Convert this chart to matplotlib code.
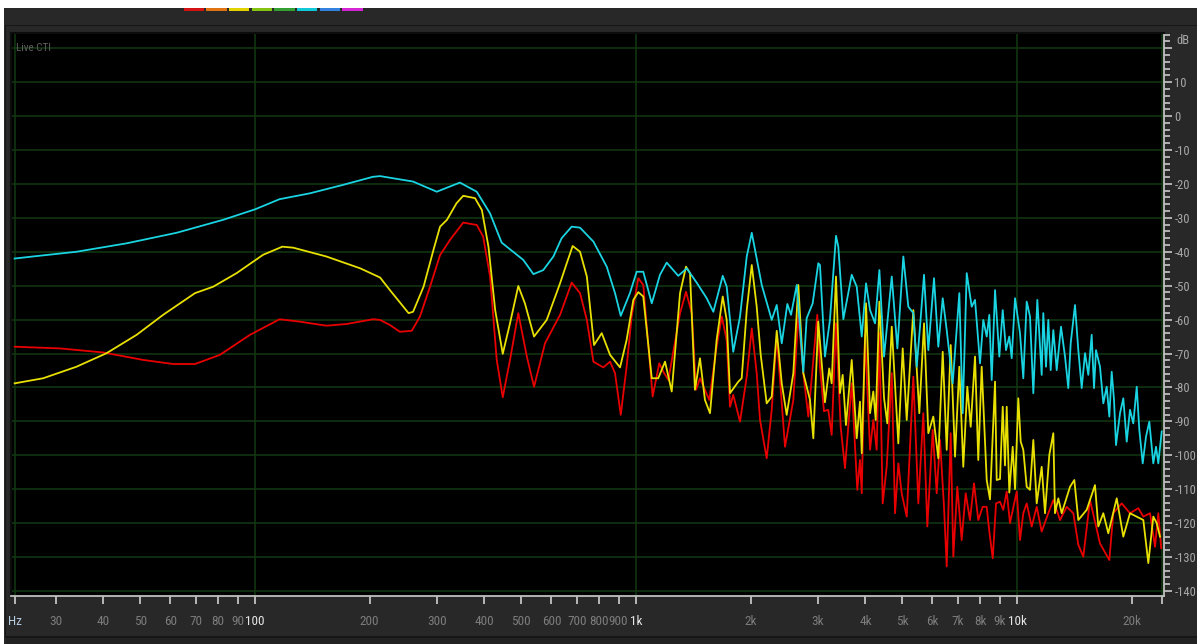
import matplotlib
matplotlib.use("Agg")
import matplotlib.pyplot as plt
from matplotlib.patches import Rectangle
from matplotlib.ticker import MultipleLocator, NullLocator
from matplotlib import font_manager as fm

# ---------------- data ----------------
cyan_freq = [23.4, 26.1, 34.0, 46.1, 62.3, 82.4, 100, 116, 139, 170, 204, 213, 260, 300, 345, 382, 414, 444, 476,
             506, 538, 571, 607, 638, 678, 713, 773, 838, 881, 912, 964, 1004, 1045, 1100, 1156, 1204, 1291, 1359,
             1443, 1533, 1596, 1689, 1730, 1800, 1875, 1953, 2013, 2138, 2271, 2341, 2413, 2496, 2552, 2642, 2749,
             2805, 2909, 3009, 3040, 3133, 3229, 3349, 3396, 3501, 3683, 3796, 3913, 4016, 4114, 4241, 4353, 4478,
             4691, 4853, 5031, 5185, 5344, 5455, 5565, 5701, 5851, 6056, 6215, 6383, 6539, 6780, 7057, 7203, 7379,
             7605, 7759, 7997, 8157, 8327, 8459, 8583, 8757, 8986, 9173, 9357, 9546, 9685, 9881, 10183, 10387, 10604,
             10817, 11036, 11306, 11609, 11722, 11915, 12083, 12257, 12454, 12712, 13047, 13366, 13633, 13833, 14198,
             14485, 14785, 15084, 15387, 15705, 15927, 16119, 16513, 16847, 17195, 17470, 17725, 17972, 18190, 18635,
             19011, 19405, 19797, 20194, 20617, 20942, 21376, 21808, 22245, 22789, 23164, 23490, 23977]
cyan_db = [-42.0, -41.4, -40.0, -37.5, -34.4, -30.6, -27.5, -24.5, -22.8, -20.3, -17.9, -17.7, -19.3, -22.3, -19.6,
           -22.3, -28.7, -37.3, -40.0, -42.4, -46.6, -45.4, -41.4, -36.0, -32.6, -32.9, -37.0, -44.4, -52.2, -58.9,
           -52.2, -45.9, -45.9, -55.2, -46.8, -43.2, -47.1, -44.9, -49.1, -53.7, -57.7, -47.1, -50.3, -69.5, -59.1,
           -41.4, -34.4, -49.8, -60.1, -55.7, -67.0, -55.4, -58.6, -49.8, -75.4, -59.6, -55.2, -43.4, -43.9, -70.9,
           -60.1, -35.3, -38.5, -59.9, -46.8, -50.3, -65.0, -49.3, -57.2, -61.1, -45.4, -70.9, -47.3, -68.5, -41.4,
           -56.2, -58.1, -73.9, -62.1, -46.8, -69.0, -47.8, -68.0, -53.7, -63.1, -78.8, -52.2, -87.6, -46.3, -56.2,
           -54.2, -72.9, -60.1, -65.0, -58.6, -77.8, -51.3, -70.9, -57.2, -69.0, -65.0, -71.4, -53.7, -64.0, -77.3,
           -54.7, -59.1, -81.7, -54.2, -76.3, -58.1, -73.9, -60.1, -74.9, -63.1, -74.9, -62.1, -70.9, -80.2, -67.0,
           -55.7, -69.0, -80.2, -69.9, -76.3, -64.5, -80.2, -69.0, -73.9, -84.7, -79.8, -88.6, -75.4, -83.7, -97.0,
           -87.6, -83.2, -96.0, -86.6, -90.6, -79.8, -92.5, -102.4, -94.5, -90.1, -102.4, -97.5, -102.4, -93.0]

yellow_freq = [23.4, 27.8, 34.0, 40.8, 48.9, 57.4, 69.6, 77.7, 89.5, 105, 118, 126, 154, 189, 213, 226, 253, 260, 277,
               294, 306, 319, 338, 352, 378, 394, 410, 427, 447, 467, 491, 511, 540, 583, 632, 658, 682, 713, 743, 776,
               813, 855, 908, 945, 984, 1014, 1045, 1100, 1144, 1192, 1241, 1305, 1353, 1386, 1428, 1472, 1517, 1564,
               1628, 1689, 1730, 1765, 1856, 1894, 1953, 2013, 2074, 2125, 2203, 2271, 2341, 2413, 2486, 2588, 2667,
               2749, 2862, 2920, 3009, 3133, 3215, 3263, 3349, 3430, 3487, 3557, 3683, 3796, 3871, 3913, 4016, 4114,
               4196, 4257, 4353, 4478, 4566, 4691, 4881, 5012, 5135, 5344, 5541, 5701, 5851, 6030, 6215, 6383, 6539,
               6699, 6876, 7057, 7228, 7406, 7559, 7759, 7913, 8078, 8327, 8494, 8757, 8845, 9024, 9173, 9300, 9397,
               9546, 9743, 9881, 10079, 10226, 10387, 10604, 10817, 11036, 11264, 11609, 11844, 12156, 12454, 12580,
               12835, 13101, 13776, 14139, 14485, 15237, 16020, 16344, 16847, 17362, 18269, 19011, 19797, 20617, 21455,
               22113, 22789, 23263, 23730]
yellow_db = [-78.8, -77.3, -73.9, -69.9, -64.5, -58.6, -52.2, -50.3, -46.3, -40.9, -38.5, -38.8, -41.4, -44.9, -47.6,
             -51.3, -58.1, -57.7, -50.3, -39.5, -32.6, -30.6, -25.7, -23.5, -24.2, -27.7, -38.5, -57.2, -70.1, -61.1,
             -50.1, -55.2, -65.0, -60.1, -49.3, -43.4, -38.3, -40.0, -47.3, -67.5, -64.0, -70.4, -74.1, -66.0, -54.2,
             -51.9, -53.2, -77.3, -77.3, -72.4, -81.2, -52.2, -44.4, -46.3, -80.7, -71.4, -83.7, -87.6, -66.0, -53.2,
             -60.1, -81.7, -78.3, -77.3, -57.2, -43.9, -56.2, -70.4, -84.7, -82.7, -63.3, -78.8, -88.1, -75.8, -49.8,
             -75.8, -83.7, -95.0, -60.6, -84.4, -74.4, -78.8, -47.3, -81.7, -76.3, -91.1, -71.9, -95.0, -84.2, -99.4,
             -55.2, -87.6, -81.2, -89.6, -54.7, -83.2, -90.6, -62.1, -96.5, -68.5, -89.6, -57.2, -87.6, -61.1, -93.5,
             -88.6, -100.9, -69.5, -98.4, -67.5, -100.4, -73.9, -103.4, -79.8, -91.6, -70.9, -101.4, -73.9, -107.3,
             -113.0, -78.3, -107.3, -107.0, -85.7, -103.0, -85.7, -111.0, -97.5, -110.0, -83.2, -96.0, -98.4, -109.3,
             -110.2, -95.5, -114.2, -103.4, -117.1, -99.9, -93.5, -117.1, -112.7, -117.1, -109.3, -107.3, -119.1,
             -116.1, -108.8, -121.0, -117.1, -123.0, -112.7, -124.0, -117.1, -118.1, -119.1, -131.8, -118.1, -120.0,
             -124.0]

red_freq = [23.4, 30.8, 40.0, 50.9, 61.0, 69.6, 80.9, 97, 116, 131, 154, 174, 204, 213, 226, 240, 258, 271, 288, 306,
            325, 352, 382, 397, 414, 431, 447, 467, 491, 517, 540, 577, 632, 678, 713, 743, 773, 821, 855, 881, 912,
            945, 974, 1014, 1045, 1106, 1151, 1180, 1216, 1305, 1353, 1401, 1438, 1472, 1557, 1628, 1679, 1730, 1765,
            1800, 1875, 1953, 2013, 2074, 2116, 2203, 2271, 2341, 2461, 2588, 2667, 2749, 2833, 2991, 3040, 3114, 3196,
            3263, 3349, 3445, 3536, 3683, 3809, 3871, 3913, 3990, 4114, 4196, 4283, 4353, 4441, 4550, 4691, 4785, 4881,
            4981, 5135, 5344, 5508, 5677, 5816, 6008, 6155, 6280, 6433, 6539, 6699, 6805, 6971, 7158, 7333, 7526, 7711,
            7913, 8127, 8327, 8459, 8636, 8810, 9024, 9204, 9397, 9585, 9982, 10183, 10387, 10604, 10930, 11264, 11609,
            12083, 12454, 12972, 13506, 14054, 14485, 14928, 15546, 16513, 17470, 17894, 18830, 19797, 20818, 21455,
            22343, 23023, 23490, 23900]
red_db = [-68.0, -68.5, -69.7, -71.9, -73.1, -73.1, -70.4, -64.5, -59.9, -60.6, -61.8, -61.3, -59.9, -60.1, -61.6,
          -63.6, -63.3, -59.1, -50.3, -41.0, -36.5, -31.4, -32.1, -35.5, -47.3, -71.9, -82.9, -71.9, -58.1, -70.9,
          -79.8, -67.0, -58.6, -49.1, -52.2, -60.1, -72.4, -74.1, -72.4, -75.8, -88.1, -73.9, -59.1, -47.8, -49.8,
          -82.7, -72.9, -75.4, -77.8, -58.1, -51.8, -58.1, -80.7, -77.3, -83.7, -68.0, -59.1, -66.0, -85.7, -82.2,
          -90.1, -76.8, -62.6, -75.8, -89.6, -100.9, -86.6, -65.0, -97.5, -83.7, -58.6, -75.8, -88.6, -58.6, -73.9,
          -87.0, -86.6, -94.0, -61.1, -91.6, -103.8, -78.8, -110.2, -101.4, -111.2, -64.5, -98.4, -89.6, -98.4, -64.0,
          -114.2, -103.4, -75.8, -117.1, -102.4, -111.2, -118.1, -76.8, -114.2, -87.6, -121.0, -92.5, -111.2, -95.5,
          -115.2, -132.8, -93.5, -129.9, -109.3, -125.0, -111.2, -119.1, -108.3, -119.1, -115.2, -115.2, -122.5,
          -130.4, -114.2, -113.7, -116.1, -110.7, -120.0, -110.7, -125.0, -117.1, -114.2, -121.0, -115.2, -122.5,
          -117.1, -113.2, -119.1, -115.2, -117.1, -126.4, -129.9, -113.2, -126.0, -130.9, -117.1, -114.2, -117.1,
          -115.6, -118.1, -117.1, -127.0, -117.1, -127.4]

x_ticks = [23.4375, 30, 40, 50, 60, 70, 80, 90, 100, 200, 300, 400, 500, 600, 700, 800, 900, 1000,
           2000, 3000, 4000, 5000, 6000, 7000, 8000, 9000, 10000, 20000, 24000]
x_labels = ["Hz", "30", "40", "50", "60", "70", "80", "90", "100", "200", "300", "400", "500", "600", "700",
            "800", "900", "1k", "2k", "3k", "4k", "5k", "6k", "7k", "8k", "9k", "10k", "20k", ""]
y_ticks = [-140, -130, -120, -110, -100, -90, -80, -70, -60, -50, -40, -30, -20, -10, 0, 10, 20]
y_labels = ["-140", "-130", "-120", "-110", "-100", "-90", "-80", "-70", "-60", "-50", "-40", "-30", "-20",
            "-10", "0", "10", ""]
swatch_colors = ["#d41414", "#e07414", "#e2d200", "#86c414", "#34a034", "#10c8d8", "#3482e0", "#d424d4"]

# ---------------- style ----------------
names = {f.name for f in fm.fontManager.ttflist}
FONT = "Liberation Sans"
for cand in ["Liberation Sans Narrow", "Roboto Condensed", "Open Sans Condensed", "Arial Narrow"]:
    if cand in names:
        FONT = cand
        break
NARROW = FONT != "Liberation Sans"
plt.rcParams["font.family"] = [FONT, "DejaVu Sans"]
XSIZE = 9.5 if NARROW else 8.0
YSIZE = 9.0 if NARROW else 7.6

W, H = 1197, 644
BG = "#282828"
GRID = "#123a12"

fig = plt.figure(figsize=(W / 100, H / 100), dpi=100)
fig.patch.set_facecolor(BG)


def px_rect(x0, y0, x1, y1, color, z=0):
    fig.add_artist(Rectangle((x0 / W, 1 - y1 / H), (x1 - x0) / W, (y1 - y0) / H,
                             transform=fig.transFigure, facecolor=color, edgecolor="none", zorder=z))


px_rect(0, 0, W, 8, "white")
px_rect(0, 0, 4, H, "white")
px_rect(5, 25, W, 26, "#161616")
px_rect(5, 25, 6, 637, "#161616")
px_rect(5, 636, W, 638, "#161616")
px_rect(6, 638, W, H, "#222222")
for i, c in enumerate(swatch_colors):
    x0 = 183.5 + i * 22.7
    px_rect(x0, 8, x0 + 20.3, 11, c, z=2)

ax = fig.add_axes([11 / W, 1 - 596 / H, 1153 / W, 563 / H])
ax.set_facecolor("black")
ax.set_xscale("log")
ax.set_xlim(22.89, 24311)
ax.set_ylim(-141.5, 24.5)

for y in y_ticks:
    ax.axhline(y, color=GRID, lw=1.1, zorder=1)
for xv in [23.4375, 100, 1000, 10000, 24000]:
    ax.axvline(xv, color=GRID, lw=1.1, zorder=1)

ax.plot(red_freq, red_db, color="#e80000", lw=1.3, zorder=3)
ax.plot(yellow_freq, yellow_db, color="#e8e000", lw=1.3, zorder=4)
ax.plot(cyan_freq, cyan_db, color="#1ad4e2", lw=1.3, zorder=5)

for s in ["left", "top"]:
    ax.spines[s].set_color("#0c0c0c")
    ax.spines[s].set_linewidth(1.5)
for s in ["bottom", "right"]:
    ax.spines[s].set_color("#c0c0c0")
    ax.spines[s].set_linewidth(1.3)

ax.set_xticks(x_ticks)
ax.set_xticklabels(x_labels)
ax.xaxis.set_minor_locator(NullLocator())
ax.tick_params(axis="x", which="major", direction="out", length=5.5, width=1.2, color="#d0d0d0",
               pad=8, labelsize=XSIZE, labelcolor="#7c7c7c")
for lbl in ax.get_xticklabels():
    t = lbl.get_text()
    if t in ("100", "1k", "10k"):
        lbl.set_color("#e8e8e8")
    elif t == "Hz":
        lbl.set_color("#b8cce0")

ax.yaxis.tick_right()
ax.set_yticks(y_ticks)
ax.set_yticklabels(y_labels)
ax.yaxis.set_minor_locator(MultipleLocator(2))
ax.tick_params(axis="y", which="major", direction="out", length=5.5, width=1.2, color="#c8c8c8",
               pad=2, labelsize=YSIZE, labelcolor="#a8a8a8")
ax.tick_params(axis="y", which="minor", direction="out", length=4.5, width=1.2, color="#c8c8c8")

fig.text(1176 / W, 1 - 40 / H, "dB", color="#a8a8a8", fontsize=YSIZE, va="center", ha="left")
fig.text(16 / W, 1 - 48 / H, "Live CTI", color="#5e5e5e", fontsize=8, va="center", ha="left", zorder=6)

fig.savefig("out.png", dpi=100, facecolor=fig.get_facecolor())
